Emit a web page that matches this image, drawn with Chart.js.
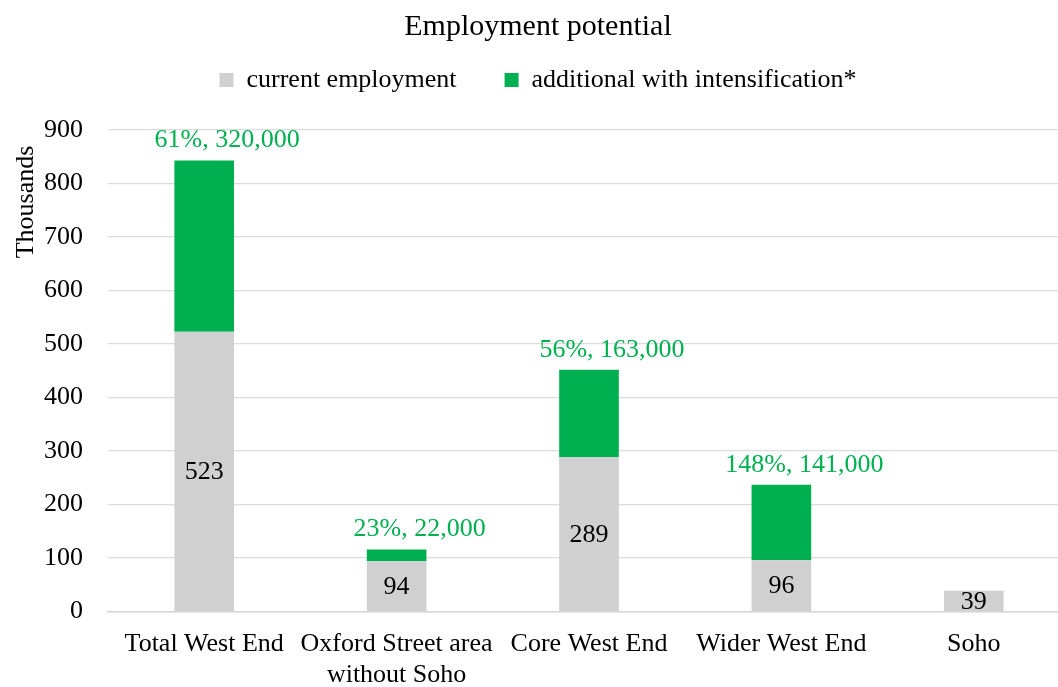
<!DOCTYPE html>
<html>
<head>
<meta charset="utf-8">
<script src="https://cdn.jsdelivr.net/npm/chart.js@4/dist/chart.umd.min.js"></script>
<style>
  html, body { margin: 0; padding: 0; background: #fff; overflow: hidden; }
  #wrap { width: 1072px; height: 687px; }
</style>
</head>
<body>
<div id="wrap"><canvas id="chart"></canvas></div>
<script>
// Employment in the West End areas, thousands
const areas = ['Total West End', ['Oxford Street area', 'without Soho'], 'Core West End', 'Wider West End', 'Soho'];
const currentJobs = [523, 94, 289, 96, 39];
const extraJobs = [320, 22, 163, 141, null];
const growthLabels = ['61%, 320,000', '23%, 22,000', '56%, 163,000', '148%, 141,000', ''];
const yTicks = [0, 100, 200, 300, 400, 500, 600, 700, 800, 900];

const FONT = "'Liberation Serif', 'Times New Roman', serif";
const GREY = '#d0d0d0';
const GREEN = '#00b050';

// value labels: inside the grey bars, above the green ones
const barLabels = {
  id: 'barLabels',
  afterDatasetsDraw(chart) {
    const ctx = chart.ctx;
    ctx.save();
    ctx.font = '26px ' + FONT;
    ctx.textAlign = 'center';
    ctx.textBaseline = 'middle';

    const base = chart.getDatasetMeta(0);
    base.data.forEach((bar, i) => {
      ctx.fillStyle = '#000';
      ctx.fillText(String(currentJobs[i]), bar.x, (bar.y + bar.base) / 2 + 1);
    });

    const top = chart.getDatasetMeta(1);
    top.data.forEach((bar, i) => {
      if (!growthLabels[i]) return;
      ctx.fillStyle = GREEN;
      ctx.fillText(growthLabels[i], bar.x + 23, bar.y - 20);
    });

    // rotated axis caption near the top of the value axis
    ctx.fillStyle = '#000';
    ctx.translate(26, 202);
    ctx.rotate(-Math.PI / 2);
    ctx.fillText('Thousands', 0, 0);
    ctx.restore();
  }
};

// leave some room between the legend row and the plot
const legendGap = {
  id: 'legendGap',
  beforeInit(chart) {
    const fit = chart.legend.fit;
    chart.legend.fit = function () {
      fit.call(this);
      this.height += 27;
    };
  }
};

new Chart(document.getElementById('chart'), {
  type: 'bar',
  data: {
    labels: areas,
    datasets: [
      { label: 'current employment', data: currentJobs, backgroundColor: GREY },
      { label: 'additional with intensification*', data: extraJobs, backgroundColor: GREEN }
    ]
  },
  options: {
    responsive: true,
    maintainAspectRatio: false,
    animation: false,
    layout: { padding: { top: 0, right: 2, bottom: -21, left: 6 } },
    datasets: { bar: { categoryPercentage: 0.31, barPercentage: 1 } },
    plugins: {
      title: {
        display: true,
        text: 'Employment potential',
        color: '#000',
        font: { family: FONT, size: 30, weight: 'normal' },
        padding: { top: 9, bottom: -26 }
      },
      legend: {
        display: true,
        labels: {
          color: '#000',
          font: { family: FONT, size: 26 },
          boxWidth: 14,
          boxHeight: 14,
          padding: 48
        }
      },
      tooltip: { enabled: false }
    },
    scales: {
      x: {
        stacked: true,
        grid: { display: false, drawTicks: false },
        border: { display: true, color: '#d6d6d6', width: 1.5 },
        ticks: {
          color: '#000',
          font: { family: FONT, size: 26, lineHeight: 1.2 },
          padding: 17,
          maxRotation: 0,
          autoSkip: false
        }
      },
      y: {
        stacked: true,
        min: 0,
        max: 900,
        afterBuildTicks: scale => { scale.ticks = yTicks.map(v => ({ value: v })); },
        afterFit: scale => { scale.width = 102; },
        grid: { color: '#dcdcdc', lineWidth: 1.2, drawTicks: false },
        border: { display: false },
        ticks: {
          color: '#000',
          font: { family: FONT, size: 26 },
          padding: 25
        }
      }
    }
  },
  plugins: [barLabels, legendGap]
});
</script>
</body>
</html>
